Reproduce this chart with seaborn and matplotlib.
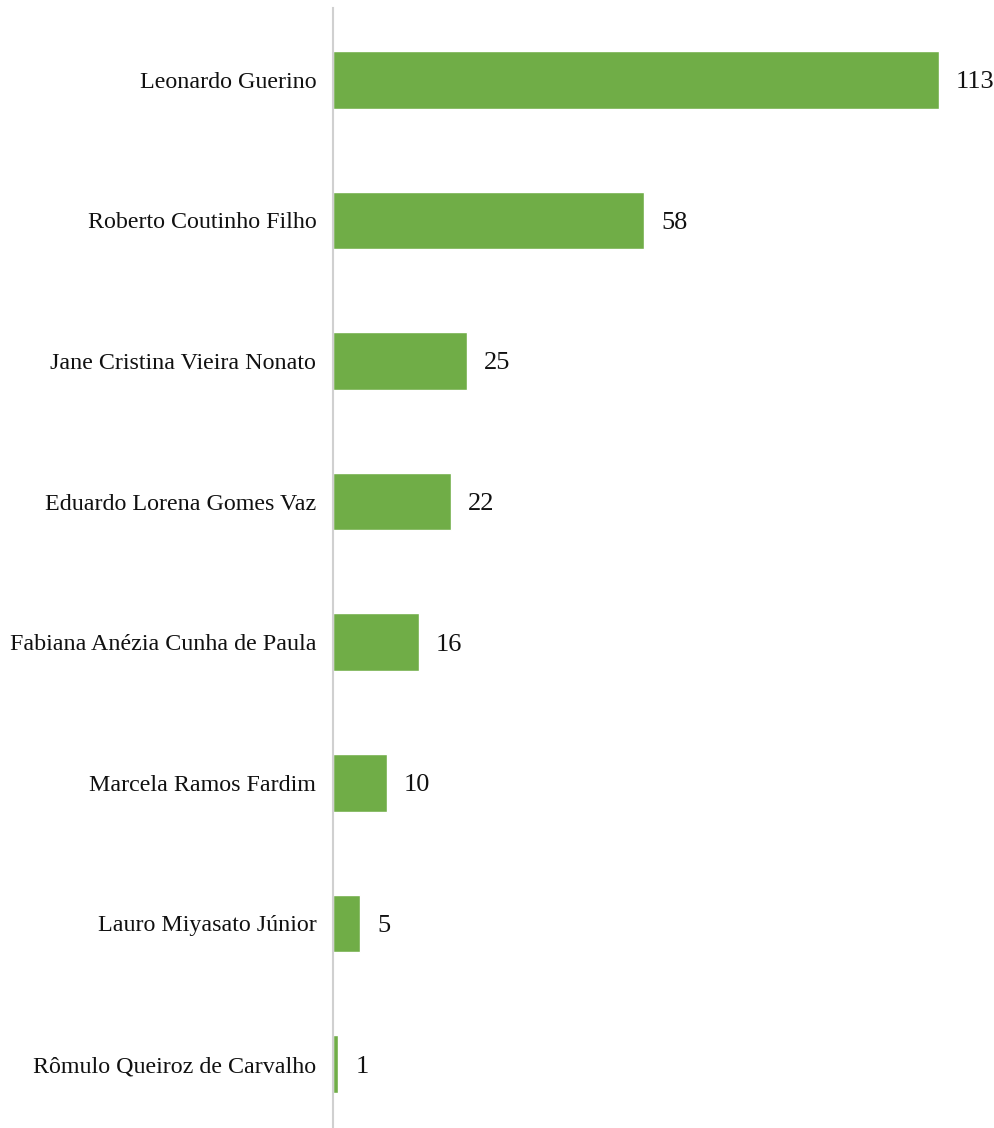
import pandas as pd
import seaborn as sns
import matplotlib.pyplot as plt

names = [
    "Leonardo Guerino",
    "Roberto Coutinho Filho",
    "Jane Cristina Vieira Nonato",
    "Eduardo Lorena Gomes Vaz",
    "Fabiana Anézia Cunha de Paula",
    "Marcela Ramos Fardim",
    "Lauro Miyasato Júnior",
    "Rômulo Queiroz de Carvalho",
]
counts = [113, 58, 25, 22, 16, 10, 5, 1]

df = pd.DataFrame({"nome": names, "total": counts})

sns.set_style("white")
plt.rcParams['font.family'] = ['Liberation Serif', 'DejaVu Serif']

fig = plt.figure(figsize=(9.95, 11.28), dpi=100)
ax = fig.add_axes([333 / 995, 0, 662 / 995, 1120 / 1128])

sns.barplot(data=df, x="total", y="nome", color="#70AD47", width=0.41,
            saturation=1, ax=ax)

# value labels next to each bar
for i, v in enumerate(counts):
    ax.annotate(str(v), (v, i), xytext=(12.5, 0), textcoords="offset points",
                ha="left", va="center_baseline", fontsize=19, color="#111111")

ax.set_xlim(0, 123.5)
ax.set_ylim(7.455, -0.51)
ax.set_xlabel("")
ax.set_ylabel("")
ax.set_xticks([])
ax.tick_params(axis="y", length=0, pad=12, labelsize=17.3, labelcolor="#111111")
for side in ["top", "right", "bottom"]:
    ax.spines[side].set_visible(False)
ax.spines["left"].set_color("#d0d0d0")
ax.spines["left"].set_linewidth(1.5)

plt.savefig("out.png", dpi=100)
